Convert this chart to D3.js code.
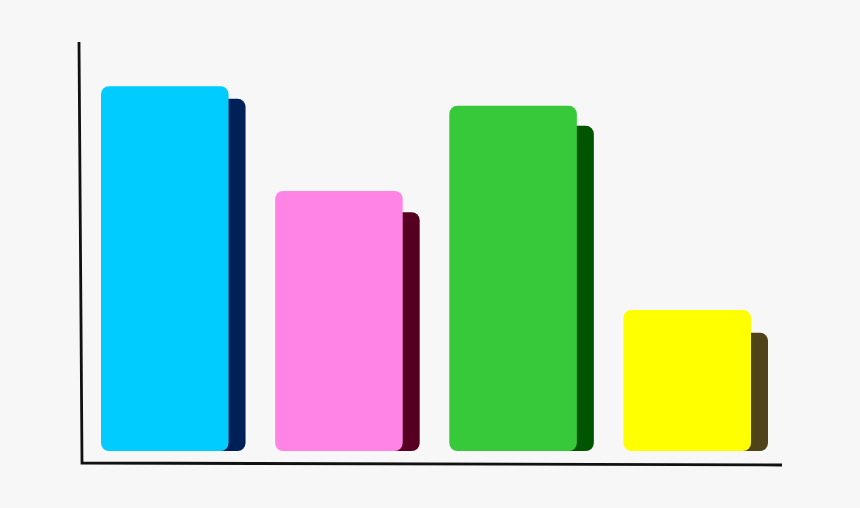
<!DOCTYPE html>
<html>
<head>
<meta charset="utf-8">
<script src="https://cdn.jsdelivr.net/npm/d3@7"></script>
<style>
  html, body { margin: 0; padding: 0; background: #f7f7f7; }
  svg { display: block; }
</style>
</head>
<body>
<svg id="chart" width="860" height="508"></svg>
<script>
// bar chart with drop-shadow blocks behind each bar

var categories = ["A", "B", "C", "D"];
var values = [89.2, 63.6, 84.4, 34.5];
var shadow_values = [86.1, 58.4, 79.5, 28.9];
var bar_colors = ["#00ccff", "#ff84e6", "#37c93a", "#ffff00"];
var shadow_colors = ["#002157", "#550021", "#005500", "#4f4419"];

var svg = d3.select("#chart");
var width = parseInt(svg.attr("width"));
var height = parseInt(svg.attr("height"));

var shadow_dx = 17;
var radius = 8;

var x = d3.scaleBand()
	.domain(categories)
	.range([101, 768])
	.paddingInner(0.17)
	.paddingOuter(0);

var y = d3.scaleLinear()
	.domain([0, 100])
	.range([451, 42]);

var bar_w = x.bandwidth() - shadow_dx;

var rows = categories.map((c, i) => ({
	cat: c, value: values[i], shadow: shadow_values[i],
	color: bar_colors[i], shade: shadow_colors[i]
}));

svg.append("rect")
	.attr("width", width)
	.attr("height", height)
	.attr("fill", "#f7f7f7");

var groups = svg.append("g")
	.selectAll("g")
	.data(rows)
	.enter().append("g");

// shadows go first so the bar covers their left part
groups.append("rect")
	.attr("x", d => x(d.cat) + bar_w - 20)
	.attr("y", d => y(d.shadow))
	.attr("width", 20 + shadow_dx)
	.attr("height", d => y(0) - y(d.shadow))
	.attr("rx", radius)
	.attr("fill", d => d.shade);

groups.append("rect")
	.attr("x", d => x(d.cat))
	.attr("y", d => y(d.value))
	.attr("width", bar_w)
	.attr("height", d => y(0) - y(d.value))
	.attr("rx", radius)
	.attr("fill", d => d.color);

// hand drawn looking axes, slightly skewed
var x0 = x.range()[0] - 19, x1 = x.range()[1] + 14;
var axis_pts = [
	[x0 - 3, y(100)],
	[x0, y(0) + 12],
	[x1, y(0) + 14]
];
svg.append("path")
	.attr("d", d3.line()(axis_pts))
	.attr("fill", "none")
	.attr("stroke", "#111")
	.attr("stroke-width", 2.8)
	.attr("stroke-linejoin", "miter");
</script>
</body>
</html>
